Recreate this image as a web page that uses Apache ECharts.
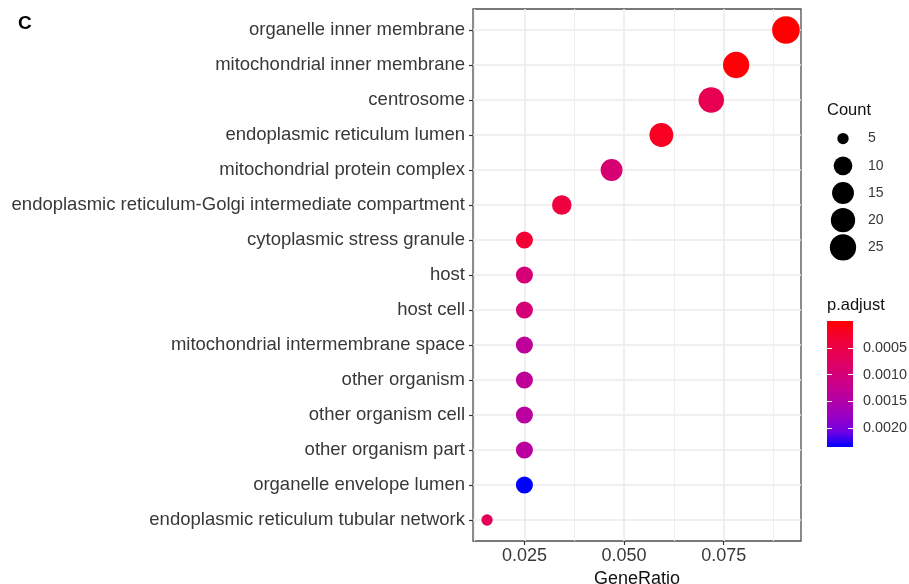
<!DOCTYPE html>
<html>
<head>
<meta charset="utf-8">
<script src="https://cdn.jsdelivr.net/npm/echarts@6/dist/echarts.min.js"></script>
<style>
html, body { margin: 0; padding: 0; background: #fff; }
#dotplot { width: 909px; height: 584px; }
</style>
</head>
<body>
<div id="dotplot"></div>
<script>
// GO terms, top to bottom
var terms = ['organelle inner membrane', 'mitochondrial inner membrane', 'centrosome',
	'endoplasmic reticulum lumen', 'mitochondrial protein complex',
	'endoplasmic reticulum-Golgi intermediate compartment', 'cytoplasmic stress granule',
	'host', 'host cell', 'mitochondrial intermembrane space', 'other organism',
	'other organism cell', 'other organism part', 'organelle envelope lumen',
	'endoplasmic reticulum tubular network'];
var geneRatio = [0.090625, 0.078125, 0.071875, 0.059375, 0.046875, 0.034375, 0.025,
	0.025, 0.025, 0.025, 0.025, 0.025, 0.025, 0.025, 0.015625];
var counts = [29, 25, 23, 19, 15, 11, 8, 8, 8, 8, 8, 8, 8, 8, 5];
var pAdjust = [0.000001, 0.00003, 0.00059, 0.0002, 0.00094, 0.00042, 0.00033,
	0.00098, 0.00098, 0.00134, 0.00134, 0.0014, 0.0014, 0.00235, 0.00066];

var xTicks = [0.025, 0.050, 0.075];
var xMinor = [0.0125, 0.0375, 0.0625, 0.0875];
var sizeBreaks = [5, 10, 15, 20, 25];
var pTicks = [0.0005, 0.0010, 0.0015, 0.0020];

// red -> blue, stepped like ggplot's Lab gradient
var gradColors = ['#FF0000', '#F40031', '#E80050', '#DA006C', '#CA0089', '#B500A5', '#9A00C3', '#7500E3', '#0000FF'];

var font = '"Liberation Sans", Arial, sans-serif';
var txt = '#383838';
var cMin = Math.min.apply(null, counts), cMax = Math.max.apply(null, counts);
var pMax = Math.max.apply(null, pAdjust);
var yIdx = terms.map(function(t, i) { return i; });

function dotSize(c) {
	return 11.3 + 16.4 * Math.sqrt(Math.max(0, (c - cMin) / (cMax - cMin)));
}

var dom = document.getElementById('dotplot');
var myChart = echarts.init(dom);
var option = null;

var pts = [];
terms.forEach(function(t, i) {
	pts.push([geneRatio[i], i, pAdjust[i], counts[i]]);
});

var stops = gradColors.map(function(c, i) {
	return { offset: i / (gradColors.length - 1), color: c };
});

option = {
	animation: false,
	backgroundColor: '#fff',
	textStyle: { fontFamily: font },
	title: {
		text: 'C',
		left: 13,
		top: 9,
		textStyle: { fontSize: 19, fontWeight: 'bold', color: '#000', fontFamily: font }
	},
	graphic: [
		{ type: 'text', left: 827, top: 102, style: { text: 'Count', fontSize: 16.5, fill: '#111', fontFamily: font } },
		{ type: 'text', left: 827, top: 297, style: { text: 'p.adjust', fontSize: 16.5, fill: '#111', fontFamily: font } }
	],
	visualMap: {
		show: false,
		type: 'continuous',
		seriesIndex: 0,
		dimension: 2,
		min: 0,
		max: pMax,
		inRange: { color: gradColors }
	},
	grid: [
		{ left: 473, top: 9, width: 328, height: 532, outerBoundsMode: 'none', show: true, borderColor: '#4D4D4D', borderWidth: 1.3, backgroundColor: '#fff' },
		{ left: 830, top: 125, width: 26, height: 136, outerBoundsMode: 'none' },
		{ left: 827, top: 321, width: 26, height: 126, outerBoundsMode: 'none' }
	],
	xAxis: [{
		type: 'value',
		gridIndex: 0,
		min: 0.0121,
		max: 0.0944,
		axisLine: { show: false, onZero: false },
		axisTick: { show: true, length: 4, customValues: xTicks, lineStyle: { color: '#333', width: 1.2 } },
		axisLabel: {
			customValues: xTicks, fontSize: 18, color: txt, margin: 6,
			formatter: function(v) { return v.toFixed(3); }
		},
		splitLine: { show: true, lineStyle: { color: '#EBEBEB', width: 1.6 } },
		name: 'GeneRatio',
		nameLocation: 'middle',
		nameGap: 25,
		nameTextStyle: { fontSize: 18, color: '#111', verticalAlign: 'top' }
	}, {
		type: 'value',
		gridIndex: 0,
		min: 0.0121,
		max: 0.0944,
		axisLine: { show: false, onZero: false },
		axisTick: { show: false, customValues: xMinor },
		axisLabel: { show: false },
		splitLine: { show: true, lineStyle: { color: '#EFEFEF', width: 1.1 } }
	}, {
		type: 'value', gridIndex: 1, min: 0, max: 1, show: false
	}, {
		type: 'category', gridIndex: 2, data: [''], show: false
	}],
	yAxis: [{
		type: 'value',
		gridIndex: 0,
		min: -0.6,
		max: 14.6,
		inverse: true,
		axisLine: { show: false, onZero: false },
		axisTick: { show: true, length: 4, customValues: yIdx, lineStyle: { color: '#333', width: 1.2 } },
		axisLabel: {
			customValues: yIdx, fontSize: 18.5, color: txt, margin: 8,
			formatter: function(v) { return terms[Math.round(v)]; }
		},
		splitLine: { show: true, lineStyle: { color: '#EBEBEB', width: 1.6 } }
	}, {
		type: 'category',
		gridIndex: 1,
		data: sizeBreaks.map(String),
		inverse: true,
		position: 'right',
		axisLine: { show: false, onZero: false },
		axisTick: { show: false },
		axisLabel: { fontSize: 14, color: txt, margin: 12 },
		splitLine: { show: false }
	}, {
		type: 'value',
		gridIndex: 2,
		min: 0,
		max: pMax,
		inverse: true,
		position: 'right',
		z: 5,
		axisLine: { show: false, onZero: false },
		axisTick: { show: true, inside: true, length: 5, customValues: pTicks, lineStyle: { color: '#fff', width: 1 } },
		axisLabel: {
			customValues: pTicks, fontSize: 14.4, color: txt, margin: 10,
			formatter: function(v) { return v.toFixed(4); }
		},
		splitLine: { show: false }
	}, {
		type: 'value',
		gridIndex: 2,
		min: 0,
		max: pMax,
		inverse: true,
		position: 'left',
		z: 5,
		axisLine: { show: false, onZero: false },
		axisTick: { show: true, inside: true, length: 5, customValues: pTicks, lineStyle: { color: '#fff', width: 1 } },
		axisLabel: { show: false },
		splitLine: { show: false }
	}],
	series: [{
		name: 'terms',
		type: 'scatter',
		xAxisIndex: 0,
		yAxisIndex: 0,
		data: pts,
		symbol: 'circle',
		symbolSize: function(d) { return dotSize(d[3]); },
		itemStyle: { opacity: 1 },
		z: 3
	}, {
		name: 'count legend',
		type: 'scatter',
		xAxisIndex: 2,
		yAxisIndex: 1,
		data: sizeBreaks.map(function(s, i) { return [0.5, i, s]; }),
		symbol: 'circle',
		symbolSize: function(d) { return dotSize(d[2]); },
		itemStyle: { color: '#000', opacity: 1 }
	}, {
		name: 'colorbar',
		type: 'bar',
		xAxisIndex: 3,
		yAxisIndex: 2,
		data: [pMax],
		barWidth: '100%',
		itemStyle: { color: new echarts.graphic.LinearGradient(0, 0, 0, 1, stops) }
	}]
};

if (option && typeof option === "object") {
	myChart.setOption(option, true);
}
</script>
</body>
</html>
